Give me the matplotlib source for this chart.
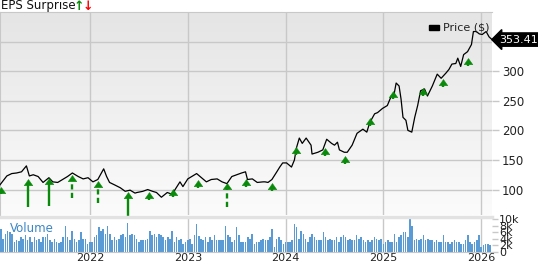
import numpy as np
import matplotlib.pyplot as plt
from matplotlib.colors import LinearSegmentedColormap
from matplotlib.patches import Rectangle
from matplotlib.path import Path
from matplotlib.transforms import blended_transform_factory

# =======================
# DATA
# =======================
price_t = [2021.08, 2021.15, 2021.20, 2021.25, 2021.30, 2021.35, 2021.38, 2021.42, 2021.47, 2021.52,
           2021.58, 2021.62, 2021.67, 2021.72, 2021.77, 2021.82, 2021.88, 2021.93, 2021.98, 2022.03,
           2022.08, 2022.14, 2022.17, 2022.20, 2022.25, 2022.31, 2022.36, 2022.41, 2022.46, 2022.48,
           2022.54, 2022.59, 2022.64, 2022.68, 2022.73, 2022.79, 2022.84, 2022.87, 2022.92, 2022.95,
           2023.00, 2023.09, 2023.14, 2023.19, 2023.24, 2023.30, 2023.35, 2023.40, 2023.45, 2023.50,
           2023.55, 2023.59, 2023.61, 2023.66, 2023.71, 2023.77, 2023.79, 2023.82, 2023.86, 2023.91,
           2023.94, 2023.97, 2024.01, 2024.06, 2024.09, 2024.11, 2024.14, 2024.17, 2024.21, 2024.26,
           2024.27, 2024.33, 2024.38, 2024.42, 2024.47, 2024.50, 2024.53, 2024.55, 2024.60, 2024.63,
           2024.68, 2024.73, 2024.79, 2024.83, 2024.86, 2024.91, 2024.94, 2024.99, 2025.04, 2025.08,
           2025.11, 2025.13, 2025.16, 2025.18, 2025.20, 2025.23, 2025.25, 2025.29, 2025.32, 2025.35,
           2025.38, 2025.42, 2025.45, 2025.50, 2025.55, 2025.59, 2025.64, 2025.67, 2025.70, 2025.74,
           2025.76, 2025.79, 2025.82, 2025.86, 2025.90, 2025.92, 2025.95, 2025.98, 2026.01, 2026.05,
           2026.08, 2026.11]
price_v = [108, 123, 127, 128, 130, 140, 123, 125, 122, 112,
           120, 113, 112, 117, 122, 128, 122, 118, 120, 113,
           117, 135, 122, 112, 108, 103, 97, 99, 94, 95,
           97, 100, 97, 95, 87, 95, 92, 100, 113, 105,
           118, 127, 120, 113, 117, 118, 113, 110, 122, 125,
           128, 130, 117, 118, 112, 113, 113, 112, 117, 130,
           138, 145, 145, 138, 150, 170, 187, 178, 187, 175,
           160, 163, 167, 185, 178, 175, 180, 167, 163, 163,
           175, 195, 202, 197, 213, 228, 230, 237, 242, 258,
           262, 280, 275, 253, 222, 217, 200, 197, 222, 242,
           267, 270, 258, 275, 295, 288, 297, 303, 312, 313,
           322, 308, 328, 333, 345, 367, 367, 363, 362, 367,
           358, 353.41]

# EPS surprise arrows: date, arrow tip price, stem bottom price, dashed stem
eps_t = [2021.09, 2021.37, 2021.58, 2021.82, 2022.08, 2022.39, 2022.60, 2022.85, 2023.10, 2023.40,
         2023.60, 2023.86, 2024.11, 2024.40, 2024.61, 2024.86, 2025.10, 2025.40, 2025.61, 2025.86]
eps_top = [104, 117.5, 119, 124, 114, 95.5, 95.5, 100.5, 116, 111,
           117.5, 111, 171.5, 170, 156, 220.5, 266, 271, 286.5, 322]
eps_bottom = [92, 70, 72, 85, 77, 48, 82, 87, 102.5, 70,
              104, 97, 158, 156, 143, 207, 253, 258, 273, 308.5]
eps_dashed = [False, False, False, True, True, False, False, False, False, True,
              False, False, False, False, False, False, False, False, False, False]

# weekly volume, thousands
volume_k = [7, 4, 5.5, 6.5, 6, 5.5, 3, 3.5, 3.3, 4.5, 4, 5, 3.5, 4.5, 3, 4.5, 3.5, 4, 3, 4.5,
            4.5, 5.5, 3.5, 3, 4, 3, 2.8, 3, 4.5, 8, 4.5, 3.5, 6.5, 4, 3, 3.5, 6, 4, 4, 2.5,
            3, 3, 4.5, 5, 7.5, 6.5, 7, 5.5, 8, 5.5, 3.5, 4.5, 3.5, 4, 5, 5.5, 4.5, 8.7, 5, 5.5,
            5, 4, 3, 3.5, 3.5, 3.5, 4, 6.5, 5, 5.5, 4.5, 5.5, 5, 4.5, 3.5, 4.5, 4, 6.5, 3, 4.5,
            3.5, 4, 2.5, 3, 3.5, 4, 2.5, 5, 8.5, 4.7, 4, 3.5, 4.5, 3, 4.5, 3.5, 5, 3.5, 3.5, 3.5,
            3.5, 8, 5, 4.5, 3, 3.5, 7.5, 5, 3, 3, 3, 4.5, 4, 5.5, 2.5, 3, 3, 3.5, 4, 3.5,
            3.5, 4.5, 7, 1.5, 4, 4.5, 3.5, 2.5, 3, 3, 3, 3.5, 8.5, 7.5, 4, 6.5, 5.5, 4, 3, 4.5,
            5.5, 4.5, 3.5, 3.5, 3.5, 6, 4.5, 3.5, 4, 3.5, 3.5, 4.5, 3, 4.5, 5, 4.5,
            3.5, 4, 3.5, 3.5, 5, 4, 4.5, 3.5, 3, 3.5, 3, 3.5, 4.5, 4, 3.5, 4, 2.5, 3, 3.5, 3,
            3, 5.5, 3, 4.5, 5, 6, 6, 4.5, 10, 8, 3.5, 4, 3.5, 4, 5, 3.5, 4, 3.5, 3.5, 3,
            3.5, 3, 3, 5, 3, 3, 2.5, 3, 3.5, 3, 3, 2.5, 2.5, 3.5, 5, 3, 2.5, 3, 3.5, 5,
            1.5, 2, 2.5, 2.5, 2]
vol_start, vol_end = 2021.09, 2026.09

year_ticks = [2022, 2023, 2024, 2025, 2026]
price_ticks = [100, 150, 200, 250, 300]
price_grid = [100, 150, 200, 250, 300, 350]
vol_ticks = [0, 2, 4, 6, 8, 10]
last_price = 353.41

GRID = "#c8c8c8"
GREEN = "#0a8a0a"
VOL_BLUE = "#5b9bd5"
TXT = "#222222"

# =======================
# FIGURE
# =======================
fig = plt.figure(figsize=(5.38, 2.62), dpi=100)
ax = fig.add_axes([0.0, 1 - 215 / 262, 492 / 538, 203 / 262])
axv = fig.add_axes([0.0, 1 - 252 / 262, 492 / 538, 35 / 262])

x0, x1 = 2021.08, 2026.11
ylo, yhi = 57, 400

# gradient background of price panel
cmap = LinearSegmentedColormap.from_list("bg", ["#fbfbfb", "#e5e5e5"])
ax.imshow(np.linspace(0, 1, 100)[:, None], extent=(0, 1, 0, 1), transform=ax.transAxes,
          aspect="auto", cmap=cmap, origin="lower", zorder=0)

for yr in year_ticks:
    ax.axvline(yr, color=GRID, lw=1, zorder=1)
    axv.axvline(yr, color=GRID, lw=1, zorder=0)
for p in price_grid:
    ax.axhline(p, color=GRID, lw=1, zorder=1)

ax.plot(price_t, price_v, color="black", lw=0.9, zorder=3)

# EPS surprise arrows
head = Path([(0, 0), (-0.7, -1), (0.7, -1), (0, 0)],
            [Path.MOVETO, Path.LINETO, Path.LINETO, Path.CLOSEPOLY])
for t, top, bot, dashed in zip(eps_t, eps_top, eps_bottom, eps_dashed):
    ls = (0, (2.2, 1.4)) if dashed else "-"
    ax.plot([t, t], [bot, top - 6], color=GREEN, lw=1.7, ls=ls, zorder=4,
            clip_on=False, solid_capstyle="butt")
    ax.plot([t], [top], marker=head, ms=9, color=GREEN, mec=GREEN, mew=0.3,
            zorder=5, clip_on=False)

ax.set_xlim(x0, x1)
ax.set_ylim(ylo, yhi)
ax.set_xticks([])
ax.yaxis.tick_right()
ax.set_yticks(price_ticks)
ax.set_yticklabels([str(p) for p in price_ticks])
ax.tick_params(axis="y", length=5, width=1, color=GRID, labelsize=8.5, pad=2,
               labelcolor=TXT)
for side in ["right", "bottom"]:
    ax.spines[side].set_visible(False)
ax.spines["top"].set_color(GRID)
ax.spines["left"].set_color(GRID)

# legend entry and last-price label
ax.add_patch(Rectangle((0.872, 0.912), 0.02, 0.025, transform=ax.transAxes,
                       color="black", zorder=6))
ax.text(0.9, 0.925, "Price ($)", transform=ax.transAxes, fontsize=8,
        va="center", ha="left", color=TXT)
trans = blended_transform_factory(ax.transAxes, ax.transData)
ax.text(1.014, last_price, f"{last_price:.2f}", transform=trans, color="white",
        fontsize=8, va="center", ha="left",
        bbox=dict(boxstyle="larrow,pad=0.15", fc="black", ec="black"))

fig.text(0.002, 1 - 6 / 262, "EPS Surprise", fontsize=8.5, va="center", ha="left",
         color="#111111")
fig.text(74 / 538, 1 - 6 / 262, "\u2191", fontsize=9, fontweight="bold", va="center",
         ha="left", color=GREEN)
fig.text(83 / 538, 1 - 6 / 262, "\u2193", fontsize=9, fontweight="bold", va="center",
         ha="left", color="red")

# volume panel
vol_t = np.linspace(vol_start, vol_end, len(volume_k))
step = (vol_end - vol_start) / (len(volume_k) - 1)
axv.bar(vol_t, volume_k, width=step * 0.72, color=VOL_BLUE, edgecolor="none", zorder=2)
axv.set_xlim(x0, x1)
axv.set_ylim(0, 10.6)
axv.yaxis.tick_right()
axv.set_yticks(vol_ticks)
axv.set_yticklabels(["0"] + [f"{v}k" for v in vol_ticks[1:]])
axv.tick_params(axis="y", length=4, width=1, color=GRID, labelsize=8, pad=1,
                labelcolor=TXT)
axv.set_xticks(year_ticks)
axv.set_xticklabels([str(y) for y in year_ticks])
axv.tick_params(axis="x", length=0, labelsize=8, pad=1, labelcolor=TXT)
for side in ["right", "left"]:
    axv.spines[side].set_visible(False)
axv.spines["top"].set_color("#e2e2e2")
axv.spines["top"].set_linewidth(2.5)
axv.spines["bottom"].set_color(GRID)
axv.text(0.02, 0.68, "Volume", transform=axv.transAxes, fontsize=8.5, color="#3b86c6",
         va="center", ha="left", zorder=3)

fig.savefig("out.png", dpi=100)
